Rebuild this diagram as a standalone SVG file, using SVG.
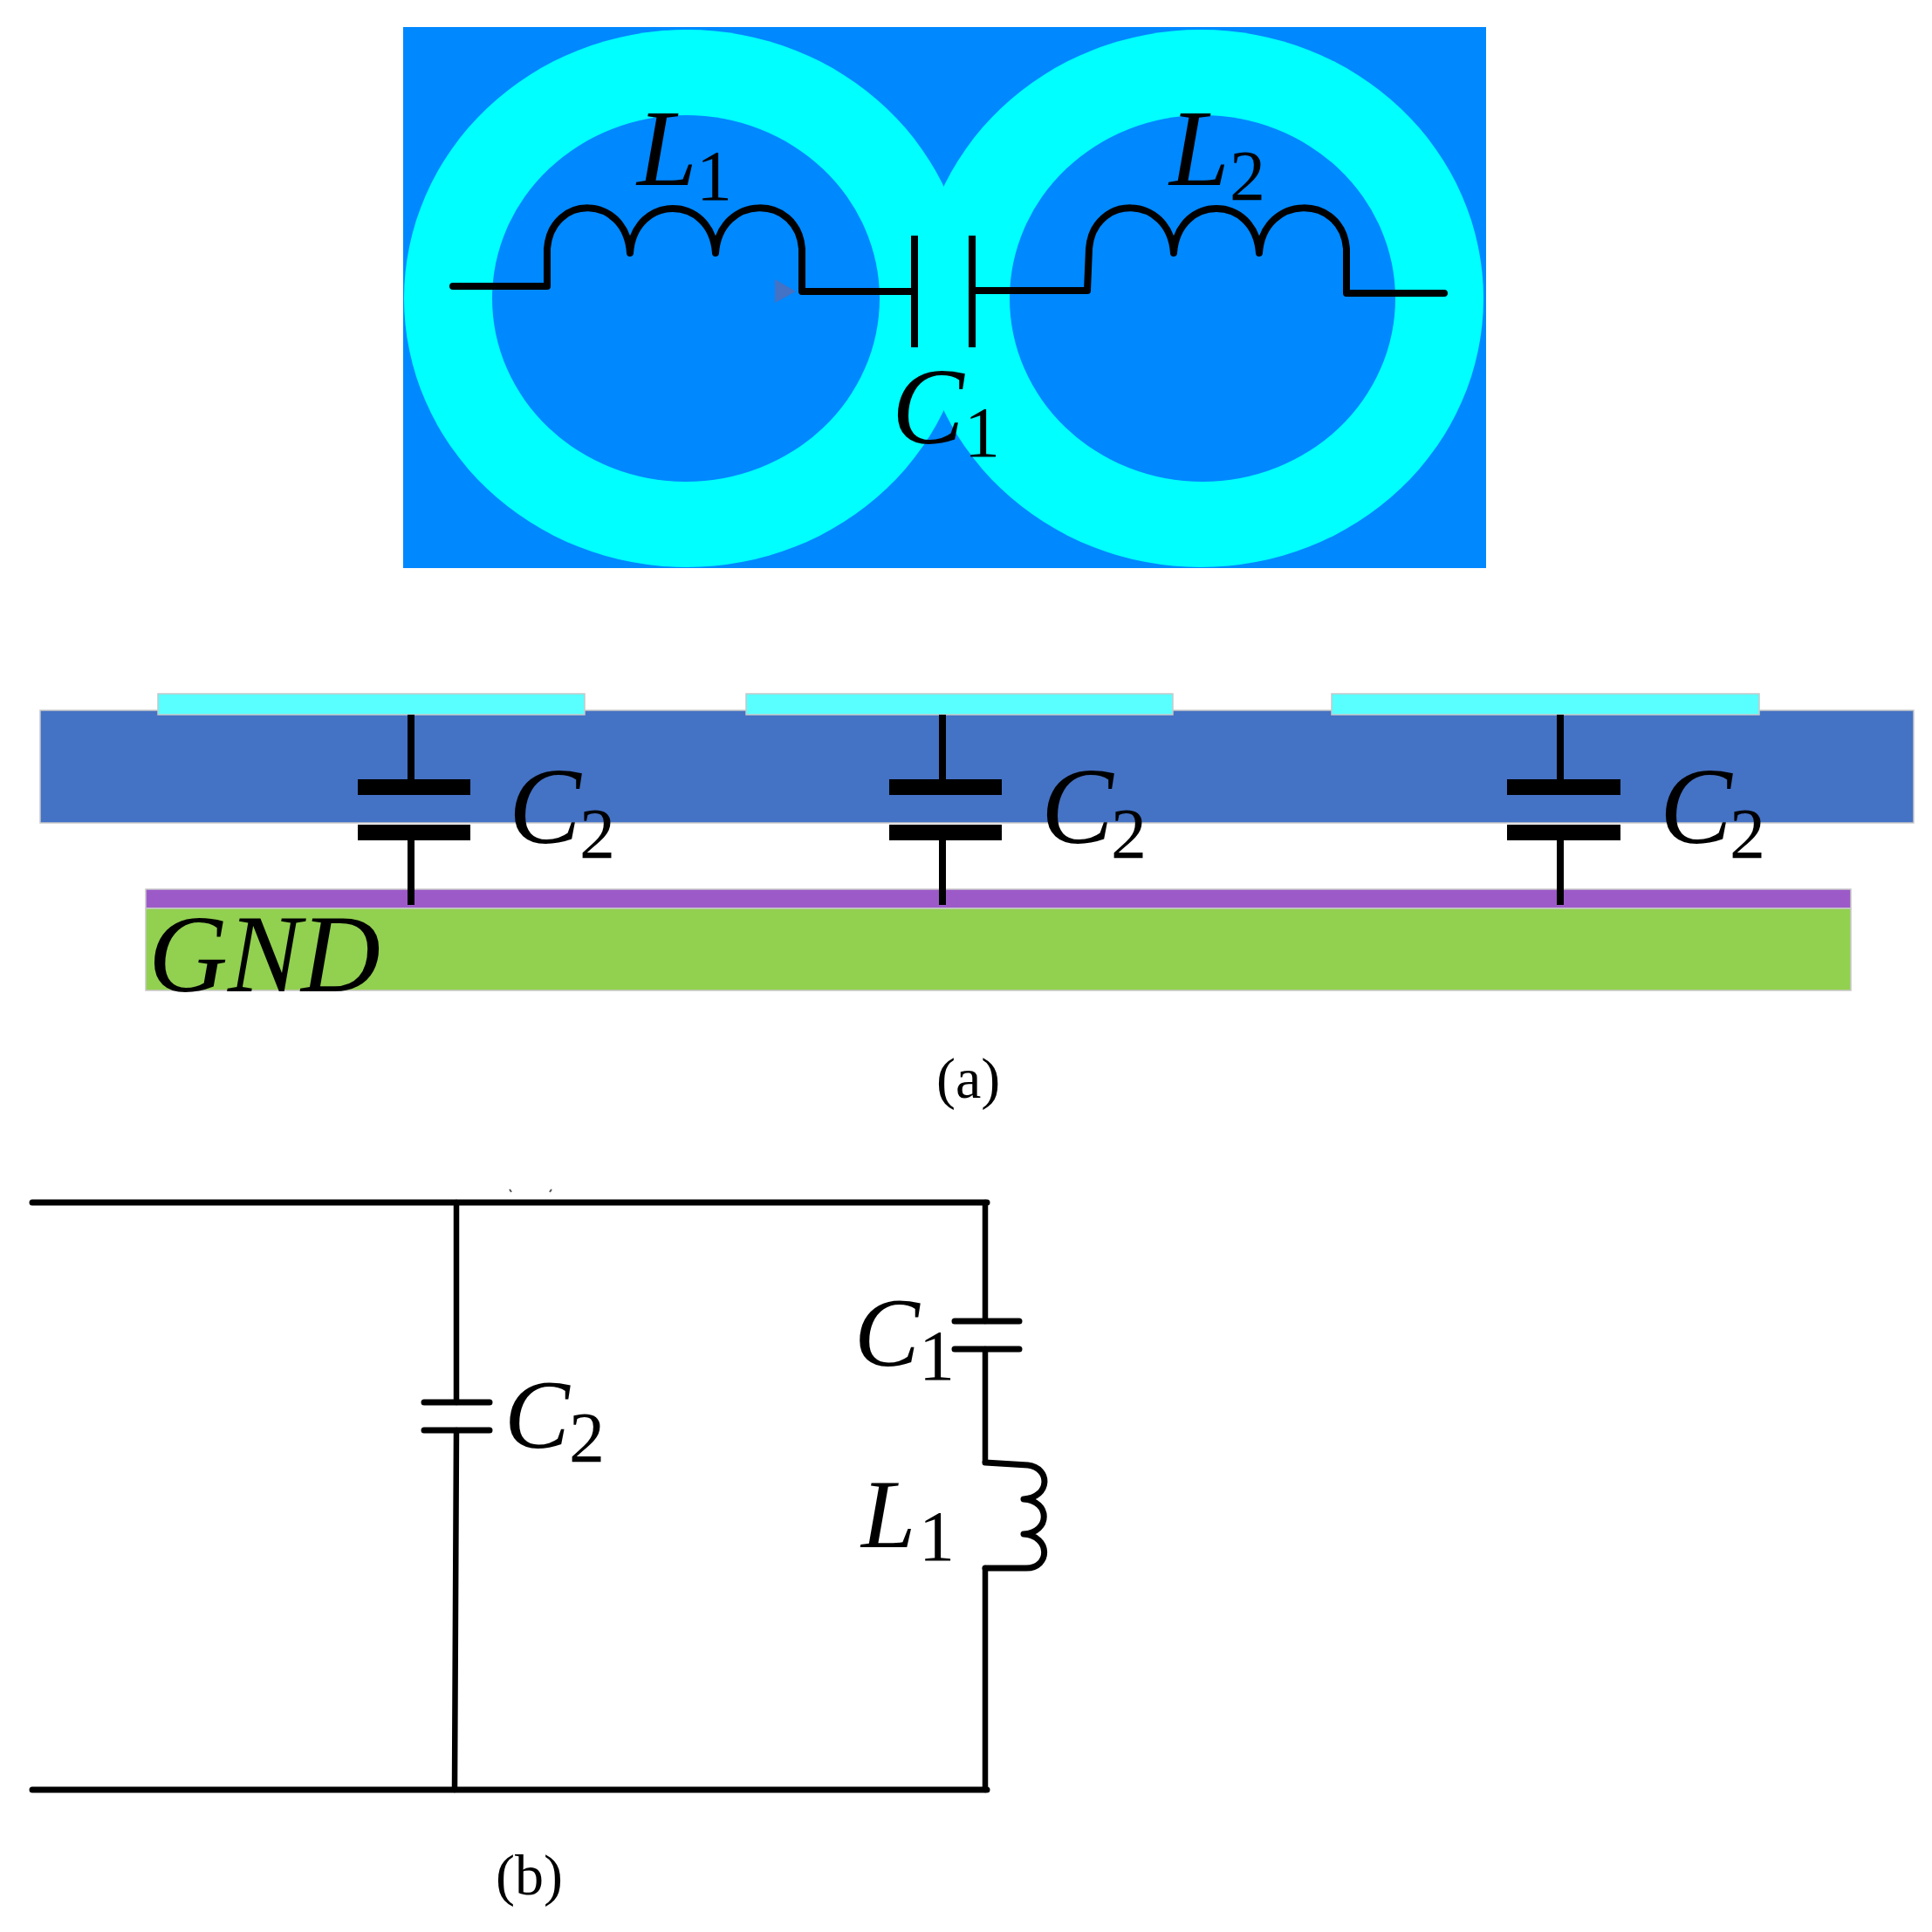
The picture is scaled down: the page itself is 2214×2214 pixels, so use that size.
<svg xmlns="http://www.w3.org/2000/svg" width="2214" height="2214" viewBox="0 0 2214 2214">
<style>
.w{fill:none;stroke:#000;stroke-linejoin:round;stroke-linecap:round}
.t{stroke-width:8}.m{stroke-width:6.5}.p{stroke-width:8;stroke-linecap:butt}
.v{font-family:"Liberation Serif","Times New Roman",serif;font-style:italic;fill:#000}
.s{font-family:"Liberation Serif","Times New Roman",serif;fill:#000}
.big{font-size:124px}.mid{font-size:112px}.sub{font-size:82px}.cap{font-size:66px}
.edge{stroke:#c8c8c8;stroke-width:1.5}
.plate{fill:#000}
</style>
<rect width="2214" height="2214" fill="#fff"/>
<g id="top-structure">
<rect id="substrate-top" x="462" y="31" width="1241" height="620" fill="#0088ff"/>
<ellipse cx="787" cy="342" rx="324" ry="308" fill="#00ffff"/>
<ellipse cx="1376" cy="342" rx="324" ry="308" fill="#00ffff"/>
<ellipse cx="786" cy="342" rx="222" ry="210" fill="#0088ff"/>
<ellipse cx="1378" cy="342" rx="221" ry="210" fill="#0088ff"/>
<path d="M888 320L912 334L888 347Z" fill="#4472c4"/>
</g>
<g id="cross-section">
<rect x="46" y="814" width="2147" height="129" fill="#4472c4" class="edge"/>
<rect x="181" y="795" width="489" height="24" fill="#59ffff" class="edge"/>
<rect x="855" y="795" width="489" height="24" fill="#59ffff" class="edge"/>
<rect x="1526" y="795" width="490" height="24" fill="#59ffff" class="edge"/>
<rect x="167" y="1019" width="1954" height="22" fill="#9c5ac8" class="edge"/>
<rect x="167" y="1041" width="1954" height="94" fill="#92d050" class="edge"/>
</g>
<g id="connectors">
<path class="w t" d="M519 328H627V285C632 222 717 222 722 290C727 222 815 222 820 290C825 222 914 222 919 285V334H1048"/>
<path class="w t" d="M1114 333H1246L1248 285C1253 222 1340 222 1345 290C1350 222 1438 222 1443 290C1448 222 1538 222 1543 285V336H1655"/>
<path class="w p" d="M471 819V900M471 955V1037M1080 819V900M1080 955V1037M1788 819V900M1788 955V1037"/>
<path class="w" stroke-width="7" d="M37 1378H1131M37 2051H1131"/>
<path class="w m" stroke-linecap="butt" d="M523 1378V1607M523 1639L521 2051M1129 1378V1514M1129 1546V1675M1129 1797V2051"/>
<path class="w" stroke-width="7" d="M1129 1676L1178 1679C1204 1682 1204 1716 1173 1718C1204 1720 1204 1756 1173 1758C1204 1760 1204 1797 1176 1797H1129"/>
<path fill="none" stroke="#555" stroke-width="2" d="M584 1363L586 1366M630 1366L632 1363"/>
</g>
<g id="C1-top"><path class="w p" stroke-linecap="round" d="M1048 270V398M1114 270V398"/><text class="v big" x="1022" y="508">C</text><text class="s sub" x="1105" y="523">1</text></g>
<g id="L1-top"><text class="v big" x="730" y="212">L</text><text class="s sub" x="798" y="229">1</text></g>
<g id="L2-top"><text class="v big" x="1340" y="212">L</text><text class="s sub" x="1409" y="229">2</text></g>
<g id="C2-a"><rect class="plate" x="410" y="893" width="129" height="18"/><rect class="plate" x="410" y="945" width="129" height="18"/><text class="v big" x="583" y="966">C</text><text class="s sub" x="664" y="983">2</text></g>
<g id="C2-b"><rect class="plate" x="1019" y="893" width="129" height="18"/><rect class="plate" x="1019" y="945" width="129" height="18"/><text class="v big" x="1193" y="966">C</text><text class="s sub" x="1273" y="983">2</text></g>
<g id="C2-c"><rect class="plate" x="1727" y="893" width="130" height="18"/><rect class="plate" x="1727" y="945" width="130" height="18"/><text class="v big" x="1902" y="966">C</text><text class="s sub" x="1982" y="983">2</text></g>
<g id="GND"><text class="v big" x="170" y="1136" style="font-size:126px">GND</text></g>
<g id="caption-a"><text class="s cap" x="1073" y="1258">(a)</text></g>
<g id="C2-circuit"><path class="w" stroke-width="7" stroke-linecap="butt" d="M486 1607H561M486 1639H561"/><text class="v mid" x="578" y="1659">C</text><text class="s sub" x="652" y="1675">2</text></g>
<g id="C1-circuit"><path class="w" stroke-width="7" stroke-linecap="butt" d="M1094 1514H1168M1094 1546H1168"/><text class="v mid" x="979" y="1565">C</text><text class="s sub" x="1053" y="1581">1</text></g>
<g id="L1-circuit"><text class="v mid" x="987" y="1773">L</text><text class="s sub" x="1053" y="1788">1</text></g>
<g id="caption-b"><text class="s cap" x="568" y="2171">(b)</text></g>
</svg>
